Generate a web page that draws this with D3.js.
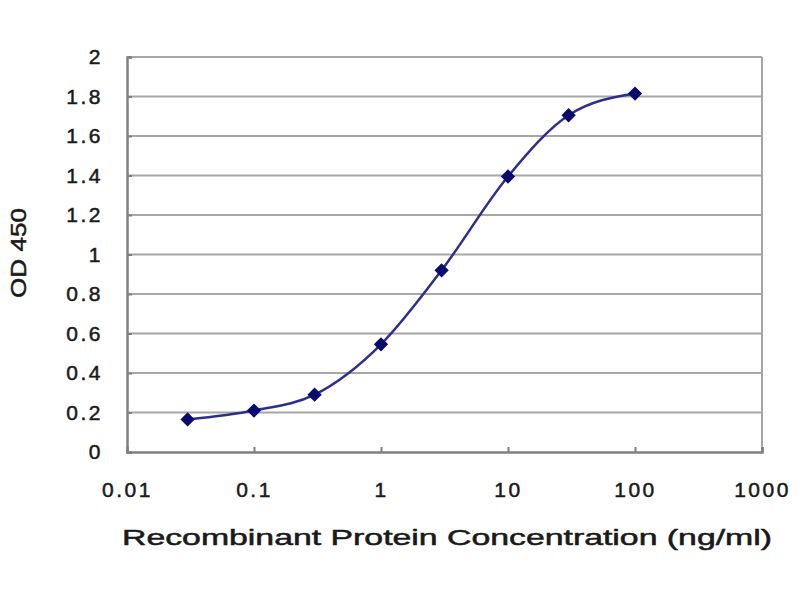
<!DOCTYPE html>
<html>
<head>
<meta charset="utf-8">
<script src="https://cdn.jsdelivr.net/npm/d3@7"></script>
<style>
  body { margin: 0; background: #fff; }
  svg { display: block; }
</style>
</head>
<body>
<svg width="800" height="600"></svg>
<script>
// данные
const concentrations = [0.03, 0.1, 0.3, 1, 3, 10, 30, 100];
const odValues = [0.165, 0.21, 0.29, 0.545, 0.92, 1.395, 1.705, 1.815];
const xTicks = [0.01, 0.1, 1, 10, 100, 1000];
const yTicks = [0, 0.2, 0.4, 0.6, 0.8, 1, 1.2, 1.4, 1.6, 1.8, 2];
const xTitle = "Recombinant Protein Concentration (ng/ml)";
const yTitle = "OD 450";

const svg = d3.select("svg");

const area = { left: 127, right: 762, top: 57, bottom: 452 };

const scX = d3.scaleLog().domain([0.01, 1000]).range([area.left, area.right]);
const scY = d3.scaleLinear().domain([0, 2]).range([area.bottom, area.top]);

// сетка
svg.append("g")
  .selectAll("line")
  .data(yTicks.filter(d => d > 0))
  .join("line")
  .attr("x1", area.left)
  .attr("x2", area.right)
  .attr("y1", d => scY(d))
  .attr("y2", d => scY(d))
  .style("stroke", "#a6a6a6")
  .style("stroke-width", 2);

// правая граница
svg.append("line")
  .attr("x1", area.right).attr("x2", area.right)
  .attr("y1", area.top).attr("y2", area.bottom)
  .style("stroke", "#a6a6a6")
  .style("stroke-width", 2);

// оси
const axisX = d3.axisBottom(scX).tickValues(xTicks).tickSize(-5).tickFormat(d => String(d));
const axisY = d3.axisLeft(scY).tickValues(yTicks).tickSize(-5).tickFormat(d => String(d));

const gx = svg.append("g")
  .attr("transform", `translate(0, ${area.bottom})`)
  .call(axisX);
const gy = svg.append("g")
  .attr("transform", `translate(${area.left}, 0)`)
  .call(axisY);

[gx, gy].forEach(g => {
  g.select(".domain").style("stroke", "#808080").style("stroke-width", 2.5);
  g.selectAll(".tick line").style("stroke", "#808080").style("stroke-width", 2);
  g.selectAll("text")
    .style("font-family", "'Liberation Sans', Arial, sans-serif")
    .style("font-size", "21px")
    .style("letter-spacing", "2.5px")
    .style("fill", "#1a1a1a")
    .style("stroke", "#1a1a1a")
    .style("stroke-width", 0.5);
});
gx.selectAll("text").attr("y", 30);
gy.selectAll("text").attr("x", -24);

// линия
const pts = concentrations.map((c, i) => ({ x: c, y: odValues[i] }));
const line = d3.line().x(d => scX(d.x)).y(d => scY(d.y)).curve(d3.curveMonotoneX);

svg.append("path")
  .datum(pts)
  .attr("d", line)
  .style("fill", "none")
  .style("stroke", "#2e2e8c")
  .style("stroke-width", 2.5);

// маркеры-ромбы
svg.append("g")
  .selectAll("path")
  .data(pts)
  .join("path")
  .attr("d", d3.symbol().type(d3.symbolDiamond2).size(130))
  .attr("transform", d => `translate(${scX(d.x)}, ${scY(d.y)})`)
  .style("fill", "#0a0a6e");

// подписи осей
svg.append("text")
  .attr("x", 447)
  .attr("y", 545)
  .attr("text-anchor", "middle")
  .attr("textLength", 650)
  .attr("lengthAdjust", "spacingAndGlyphs")
  .style("font-family", "'Liberation Sans', Arial, sans-serif")
  .style("font-size", "22px")
  .style("fill", "#1a1a1a")
  .style("stroke", "#1a1a1a")
  .style("stroke-width", 0.5)
  .text(xTitle);

svg.append("text")
  .attr("transform", "translate(26, 253) rotate(-90)")
  .attr("text-anchor", "middle")
  .attr("textLength", 90)
  .attr("lengthAdjust", "spacingAndGlyphs")
  .style("font-family", "'Liberation Sans', Arial, sans-serif")
  .style("font-size", "22px")
  .style("fill", "#1a1a1a")
  .style("stroke", "#1a1a1a")
  .style("stroke-width", 0.5)
  .text(yTitle);
</script>
</body>
</html>
